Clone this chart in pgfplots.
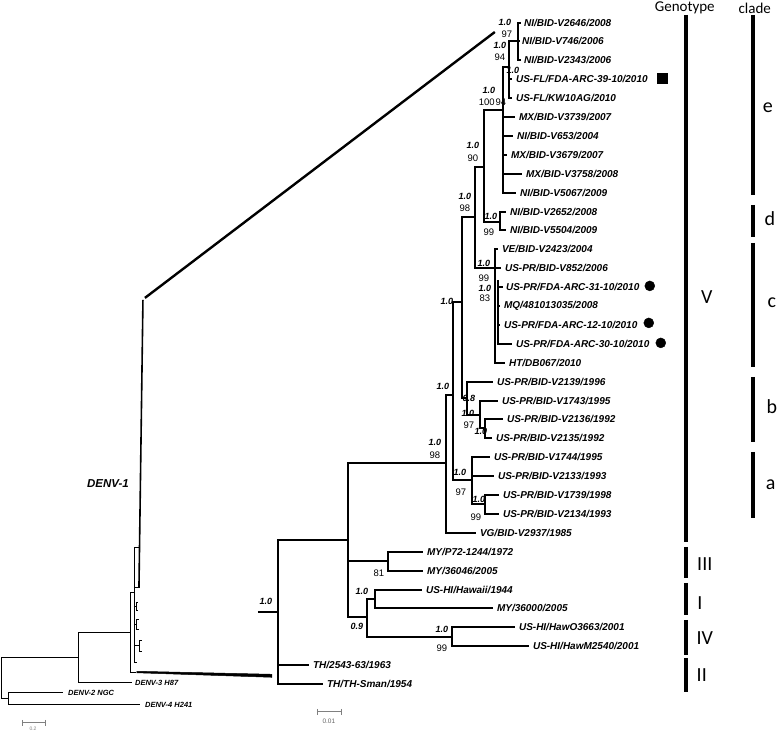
\documentclass[border=0pt]{standalone}
\usepackage{pgfplots}
\pgfplotsset{compat=1.18}
\usepackage{fontspec}
\setmainfont{Liberation Sans}
\newfontfamily\calfont{Carlito}
\tikzset{
  tlab/.style={anchor=west,inner sep=0pt,font=\fontsize{10}{12}\selectfont\bfseries\itshape},
  bs/.style={anchor=center,inner sep=0pt,font=\fontsize{9}{10}\selectfont\bfseries\itshape},
  bn/.style={anchor=center,inner sep=0pt,font=\fontsize{9.5}{10}\selectfont},
  gl/.style={anchor=center,inner sep=0pt,font=\calfont\fontsize{20}{22}\selectfont},
  ov/.style={anchor=west,inner sep=0pt,font=\fontsize{7.5}{8}\selectfont\bfseries\itshape}}
\begin{document}
\begin{tikzpicture}
\begin{axis}[width=777pt,height=731pt,scale only axis,
  xmin=0,xmax=777,ymin=0,ymax=731,y dir=reverse,hide axis,clip=false,
  unbounded coords=jump]
\path (axis cs:0,0) rectangle (axis cs:777,731);
% thick tree (expanded DENV-1)
\addplot[black,line width=2.3pt,line join=miter] table[row sep=\\]{
x y\\
348 540\\ 278 540\\ 278 684\\ 323 684\\ nan nan\\
278 665\\ 309 665\\ nan nan\\
258 612\\ 278 612\\ nan nan\\
446 463\\ 348 463\\ 348 617\\ 367 617\\ nan nan\\
348 561\\ 388 561\\ nan nan\\
423 552\\ 388 552\\ 388 571\\ 423 571\\ nan nan\\
375 599\\ 367 599\\ 367 637\\ 452 637\\ nan nan\\
422 590\\ 375 590\\ 375 608\\ 493 608\\ nan nan\\
515 627\\ 452 627\\ 452 646\\ 529 646\\ nan nan\\
453 395\\ 446 395\\ 446 533\\ 476 533\\ nan nan\\
462 302\\ 453 302\\ 453 480\\ 472 480\\ nan nan\\
490 457\\ 472 457\\ 472 504\\ 485 504\\ nan nan\\
472 476\\ 494 476\\ nan nan\\
499 495\\ 485 495\\ 485 514\\ 499 514\\ nan nan\\
475 217\\ 462 217\\ 462 398\\ 467 398\\ nan nan\\
493 382\\ 467 382\\ 467 415\\ 480 415\\ nan nan\\
498 401\\ 480 401\\ 480 428\\ 485 428\\ nan nan\\
503 419\\ 485 419\\ 485 438\\ 492 438\\ nan nan\\
484 167\\ 475 167\\ 475 268\\ 495 268\\ nan nan\\
498 249\\ 495 249\\ 495 363\\ 505 363\\ nan nan\\
495 268\\ 501 268\\ nan nan\\
498 280\\ 498 344\\ 512 344\\ nan nan\\
498 287\\ 503 287\\ nan nan\\
498 306\\ 500 306\\ nan nan\\
498 325\\ 500 325\\ nan nan\\
503 110\\ 484 110\\ 484 222\\ 500 222\\ nan nan\\
506 212\\ 500 212\\ 500 230\\ 506 230\\ nan nan\\
509 67\\ 503 67\\ 503 193\\ 516 193\\ nan nan\\
503 117\\ 515 117\\ nan nan\\
503 136\\ 513 136\\ nan nan\\
503 155\\ 507 155\\ nan nan\\
503 174\\ 522 174\\ nan nan\\
518 41\\ 509 41\\ 509 98\\ 512 98\\ nan nan\\
509 79\\ 512 79\\ nan nan\\
521 23\\ 518 23\\ 518 60\\ 521 60\\ nan nan\\
518 41\\ 520 41\\
};
% zoom connector lines
\addplot[black,line width=2.4pt] coordinates {(145,298) (495,32)};
\addplot[black,fill=black,line width=0.5pt] coordinates {(137,671.5) (272,674.5) (272,677.5) (137,673)} -- cycle;
% overview tree
\addplot[black,line width=0.9pt,line join=miter] table[row sep=\\]{
x y\\
78 658\\ 1 658\\ 1 699\\ 8 699\\ nan nan\\
63 693\\ 8 693\\ 8 705\\ 140 705\\ nan nan\\
130 633\\ 78 633\\ 78 683\\ 132 683\\ nan nan\\
134 593\\ 130 593\\ 130 673\\ 136 673\\ nan nan\\
140 548\\ 134 548\\ 134 663\\ 137 663\\ nan nan\\
138 603\\ 136 603\\ 136 611\\ 138 611\\ nan nan\\
139 620\\ 136 620\\ 136 630\\ 139 630\\ nan nan\\
142 641\\ 139 641\\ 139 652\\ 142 652\\ nan nan\\
134 607\\ 136 607\\ nan nan\\
134 625\\ 136 625\\ nan nan\\
134 646\\ 139 646\\ nan nan\\
134 588\\ 140 588\\
};
\addplot[black,line width=1.6pt] coordinates {(143,300) (139,588)};
% scale bars
\addplot[gray,line width=0.8pt] table[row sep=\\]{
x y\\
22 720\\ 22 726\\ nan nan\\ 22 723\\ 45 723\\ nan nan\\ 45 720\\ 45 726\\ nan nan\\
317 709\\ 317 715\\ nan nan\\ 317 712\\ 342 712\\ nan nan\\ 342 709\\ 342 715\\
};
% genotype and clade bars
\addplot[black,line width=4.5pt] table[row sep=\\]{
x y\\
686 15\\ 686 542\\ nan nan\\
686 547\\ 686 578\\ nan nan\\
686 583\\ 686 615\\ nan nan\\
686 620\\ 686 655\\ nan nan\\
686 658\\ 686 692\\ nan nan\\
753 15\\ 753 195\\ nan nan\\
753 205\\ 753 237\\ nan nan\\
753 243\\ 753 367\\ nan nan\\
753 377\\ 753 442\\ nan nan\\
753 452\\ 753 518\\
};
% markers
\addplot[only marks,mark=square*,mark size=5pt,black] coordinates {(662,78)};
\addplot[only marks,mark=*,mark size=5pt,black] coordinates {(650,286) (649,323) (661,343)};
% tip labels
\node[tlab] at (axis cs:524,23) {NI/BID-V2646/2008};
\node[tlab] at (axis cs:522,41) {NI/BID-V746/2006};
\node[tlab] at (axis cs:524,60) {NI/BID-V2343/2006};
\node[tlab] at (axis cs:516,79) {US-FL/FDA-ARC-39-10/2010};
\node[tlab] at (axis cs:516,98) {US-FL/KW10AG/2010};
\node[tlab] at (axis cs:519,117) {MX/BID-V3739/2007};
\node[tlab] at (axis cs:517,136) {NI/BID-V653/2004};
\node[tlab] at (axis cs:511,155) {MX/BID-V3679/2007};
\node[tlab] at (axis cs:526,174) {MX/BID-V3758/2008};
\node[tlab] at (axis cs:520,193) {NI/BID-V5067/2009};
\node[tlab] at (axis cs:510,212) {NI/BID-V2652/2008};
\node[tlab] at (axis cs:510,230) {NI/BID-V5504/2009};
\node[tlab] at (axis cs:502,249) {VE/BID-V2423/2004};
\node[tlab] at (axis cs:505,268) {US-PR/BID-V852/2006};
\node[tlab] at (axis cs:506,287) {US-PR/FDA-ARC-31-10/2010};
\node[tlab] at (axis cs:504,306) {MQ/481013035/2008};
\node[tlab] at (axis cs:504,325) {US-PR/FDA-ARC-12-10/2010};
\node[tlab] at (axis cs:516,344) {US-PR/FDA-ARC-30-10/2010};
\node[tlab] at (axis cs:509,363) {HT/DB067/2010};
\node[tlab] at (axis cs:497,382) {US-PR/BID-V2139/1996};
\node[tlab] at (axis cs:502,401) {US-PR/BID-V1743/1995};
\node[tlab] at (axis cs:507,419) {US-PR/BID-V2136/1992};
\node[tlab] at (axis cs:496,438) {US-PR/BID-V2135/1992};
\node[tlab] at (axis cs:494,457) {US-PR/BID-V1744/1995};
\node[tlab] at (axis cs:498,476) {US-PR/BID-V2133/1993};
\node[tlab] at (axis cs:503,495) {US-PR/BID-V1739/1998};
\node[tlab] at (axis cs:503,514) {US-PR/BID-V2134/1993};
\node[tlab] at (axis cs:480,533) {VG/BID-V2937/1985};
\node[tlab] at (axis cs:427,552) {MY/P72-1244/1972};
\node[tlab] at (axis cs:427,571) {MY/36046/2005};
\node[tlab] at (axis cs:426,590) {US-HI/Hawaii/1944};
\node[tlab] at (axis cs:497,608) {MY/36000/2005};
\node[tlab] at (axis cs:519,627) {US-HI/HawO3663/2001};
\node[tlab] at (axis cs:533,646) {US-HI/HawM2540/2001};
\node[tlab] at (axis cs:313,665) {TH/2543-63/1963};
\node[tlab] at (axis cs:327,684) {TH/TH-Sman/1954};
% support values
\node[bs] at (axis cs:505,22) {1.0};
\node[bn] at (axis cs:507,34) {97};
\node[bs] at (axis cs:500,45) {1.0};
\node[bn] at (axis cs:500,57) {94};
\node[bs] at (axis cs:513,70) {1.0};
\node[bs] at (axis cs:489,90) {1.0};
\node[bn] at (axis cs:487,102) {100};
\node[bn] at (axis cs:501,102) {94};
\node[bs] at (axis cs:473,145) {1.0};
\node[bn] at (axis cs:473,158) {90};
\node[bs] at (axis cs:465,196) {1.0};
\node[bn] at (axis cs:465,208) {98};
\node[bs] at (axis cs:491,216) {1.0};
\node[bn] at (axis cs:489,232) {99};
\node[bs] at (axis cs:484,263) {1.0};
\node[bn] at (axis cs:484,278) {99};
\node[bs] at (axis cs:485,288) {1.0};
\node[bn] at (axis cs:485,298) {83};
\node[bs] at (axis cs:447,301) {1.0};
\node[bs] at (axis cs:443,387) {1.0};
\node[bs] at (axis cs:469,399) {0.8};
\node[bs] at (axis cs:468,414) {1.0};
\node[bn] at (axis cs:469,425) {97};
\node[bs] at (axis cs:481,432) {1.0};
\node[bs] at (axis cs:435,443) {1.0};
\node[bn] at (axis cs:435,455) {98};
\node[bs] at (axis cs:460,473) {1.0};
\node[bn] at (axis cs:461,492) {97};
\node[bs] at (axis cs:479,500) {1.0};
\node[bn] at (axis cs:476,517) {99};
\node[bn] at (axis cs:379,573) {81};
\node[bs] at (axis cs:362,592) {1.0};
\node[bs] at (axis cs:357,627) {0.9};
\node[bs] at (axis cs:442,630) {1.0};
\node[bn] at (axis cs:442,648) {99};
\node[bs] at (axis cs:266,602) {1.0};
% overview labels
\node[anchor=center,inner sep=0pt,font=\fontsize{11.5}{12}\selectfont\bfseries\itshape] at (axis cs:108,484) {DENV-1};
\node[ov] at (axis cs:135,683) {DENV-3 H87};
\node[ov] at (axis cs:68,693) {DENV-2 NGC};
\node[ov] at (axis cs:145,705) {DENV-4 H241};
\node[anchor=center,inner sep=0pt,font=\fontsize{5}{6}\selectfont,text=gray] at (axis cs:33,729) {0.2};
\node[anchor=center,inner sep=0pt,font=\fontsize{6.5}{7}\selectfont,text=gray!80!black] at (axis cs:329,721) {0.01};
% headings and group labels
\node[anchor=center,inner sep=0pt,font=\calfont\fontsize{15}{16}\selectfont] at (axis cs:685,8) {Genotype};
\node[anchor=center,inner sep=0pt,font=\calfont\fontsize{15}{16}\selectfont] at (axis cs:755,8) {clade};
\node[gl] at (axis cs:707,297) {V};
\node[gl] at (axis cs:705,564) {III};
\node[gl] at (axis cs:700,603) {I};
\node[gl] at (axis cs:705,638) {IV};
\node[gl] at (axis cs:702,675) {II};
\node[gl] at (axis cs:768,108) {e};
\node[gl] at (axis cs:770,219) {d};
\node[gl] at (axis cs:772,303) {c};
\node[gl] at (axis cs:772,407) {b};
\node[gl] at (axis cs:771,485) {a};
\end{axis}
\end{tikzpicture}
\end{document}
